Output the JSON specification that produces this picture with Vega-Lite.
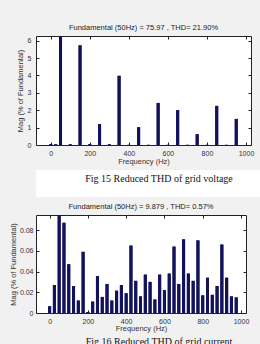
{
  "$schema": "https://vega.github.io/schema/vega-lite/v6.json",
  "background": "#f1f1f1",
  "padding": {"left": 8, "right": 0, "top": 23, "bottom": 0},
  "columns": 1,
  "align": "none",
  "spacing": 5,
  "config": {
    "font": "Liberation Sans",
    "view": {"stroke": "#222", "strokeWidth": 1, "fill": "white"},
    "axis": {
      "domain": false,
      "grid": false,
      "minExtent": 0,
      "tickSize": -3,
      "tickColor": "#222",
      "labelFont": "Liberation Sans",
      "labelFontSize": 7,
      "labelColor": "#333",
      "labelPadding": 7,
      "titleFont": "Liberation Sans",
      "titleFontSize": 7.5,
      "titleFontWeight": "normal",
      "titleColor": "#333"
    },
    "title": {"font": "Liberation Sans", "fontSize": 7.5, "fontWeight": "normal", "color": "#222", "anchor": "middle", "frame": "group", "offset": 4}
  },
  "datasets": {
    "voltage": [
      {"freq": 0, "mag": 0.05}, {"freq": 25, "mag": 0.04}, {"freq": 50, "mag": 100},
      {"freq": 100, "mag": 0.04}, {"freq": 150, "mag": 5.73}, {"freq": 200, "mag": 0.05},
      {"freq": 250, "mag": 1.2}, {"freq": 300, "mag": 0.04}, {"freq": 350, "mag": 3.98},
      {"freq": 400, "mag": 0.01}, {"freq": 450, "mag": 1.02}, {"freq": 500, "mag": 0.01},
      {"freq": 550, "mag": 2.42}, {"freq": 600, "mag": 0.01}, {"freq": 650, "mag": 2.0},
      {"freq": 700, "mag": 0.01}, {"freq": 750, "mag": 0.62}, {"freq": 800, "mag": 0.01},
      {"freq": 850, "mag": 2.25}, {"freq": 900, "mag": 0.01}, {"freq": 950, "mag": 1.5}
    ],
    "current": [
      {"freq": 0, "mag": 0.0065}, {"freq": 25, "mag": 0.027}, {"freq": 50, "mag": 100},
      {"freq": 75, "mag": 0.087}, {"freq": 100, "mag": 0.047}, {"freq": 125, "mag": 0.026},
      {"freq": 150, "mag": 0.012}, {"freq": 175, "mag": 0.059}, {"freq": 200, "mag": 0.001},
      {"freq": 225, "mag": 0.011}, {"freq": 250, "mag": 0.0355}, {"freq": 275, "mag": 0.0155},
      {"freq": 300, "mag": 0.028}, {"freq": 325, "mag": 0.012}, {"freq": 350, "mag": 0.0215},
      {"freq": 375, "mag": 0.027}, {"freq": 400, "mag": 0.019}, {"freq": 425, "mag": 0.065},
      {"freq": 450, "mag": 0.031}, {"freq": 475, "mag": 0.016}, {"freq": 500, "mag": 0.037},
      {"freq": 525, "mag": 0.030}, {"freq": 550, "mag": 0.013}, {"freq": 575, "mag": 0.037},
      {"freq": 600, "mag": 0.022}, {"freq": 625, "mag": 0.038}, {"freq": 650, "mag": 0.064},
      {"freq": 675, "mag": 0.028}, {"freq": 700, "mag": 0.071}, {"freq": 725, "mag": 0.038},
      {"freq": 750, "mag": 0.031}, {"freq": 775, "mag": 0.070}, {"freq": 800, "mag": 0.017},
      {"freq": 825, "mag": 0.034}, {"freq": 850, "mag": 0.0175}, {"freq": 875, "mag": 0.026},
      {"freq": 900, "mag": 0.066}, {"freq": 925, "mag": 0.034}, {"freq": 950, "mag": 0.016},
      {"freq": 975, "mag": 0.015}
    ]
  },
  "concat": [
    {
      "width": 215,
      "height": 109,
      "title": "Fundamental (50Hz) = 75.97 , THD= 21.90%",
      "data": {"name": "voltage"},
      "layer": [
        {
          "mark": {"type": "bar", "size": 3, "color": "#12125c", "clip": true},
          "encoding": {
            "x": {"field": "freq", "type": "quantitative", "scale": {"domain": [-50, 1000], "nice": false, "zero": false},
                  "axis": {"values": [0, 200, 400, 600, 800, 1000], "format": "d", "title": "Frequency (Hz)", "titlePadding": 1}},
            "y": {"field": "mag", "type": "quantitative", "scale": {"domain": [0, 6.27], "nice": false},
                  "axis": {"values": [0, 1, 2, 3, 4, 5, 6], "labelPadding": 8, "title": "Mag (% of Fundamental)", "titlePadding": 3}}
          }
        },
        {
          "mark": {"type": "bar", "size": 3, "color": "#12125c", "clip": true},
          "encoding": {
            "x": {"field": "freq", "type": "quantitative", "axis": {"orient": "top", "values": [0, 200, 400, 600, 800, 1000], "labels": false, "title": null}},
            "y": {"field": "mag", "type": "quantitative", "axis": {"orient": "right", "values": [0, 1, 2, 3, 4, 5, 6], "labels": false, "title": null}}
          }
        }
      ],
      "resolve": {"axis": {"x": "independent", "y": "independent"}}
    },
    {
      "width": 252,
      "height": 27,
      "view": {"fill": "white", "stroke": null},
      "data": {"values": [{"caption": "Fig  15 Reduced THD of grid voltage"}]},
      "mark": {"type": "text", "font": "Liberation Serif", "fontSize": 10, "color": "#111", "dx": -3, "dy": -5},
      "encoding": {"text": {"field": "caption"}}
    },
    {
      "width": 210,
      "height": 98,
      "title": "Fundamental (50Hz) = 9.879 , THD= 0.57%",
      "data": {"name": "current"},
      "layer": [
        {
          "mark": {"type": "bar", "size": 3, "color": "#12125c", "clip": true},
          "encoding": {
            "x": {"field": "freq", "type": "quantitative", "scale": {"domain": [-45, 1000], "nice": false, "zero": false},
                  "axis": {"values": [0, 200, 400, 600, 800, 1000], "format": "d", "title": "Frequency (Hz)", "titlePadding": 0}},
            "y": {"field": "mag", "type": "quantitative", "scale": {"domain": [0, 0.0945], "nice": false},
                  "axis": {"values": [0, 0.02, 0.04, 0.06, 0.08], "format": "~g", "labelPadding": 6, "title": "Mag (% of Fundamental)", "titlePadding": 2}}
          }
        },
        {
          "mark": {"type": "bar", "size": 3, "color": "#12125c", "clip": true},
          "encoding": {
            "x": {"field": "freq", "type": "quantitative", "axis": {"orient": "top", "values": [0, 200, 400, 600, 800, 1000], "labels": false, "title": null}},
            "y": {"field": "mag", "type": "quantitative", "axis": {"orient": "right", "values": [0, 0.02, 0.04, 0.06, 0.08], "labels": false, "title": null}}
          }
        }
      ],
      "resolve": {"axis": {"x": "independent", "y": "independent"}}
    },
    {
      "width": 252,
      "height": 4,
      "view": {"fill": "white", "stroke": null},
      "data": {"values": [{"caption": "Fig 16 Reduced THD of grid current"}]},
      "mark": {"type": "text", "font": "Liberation Serif", "fontSize": 10, "color": "#111", "dx": -3, "dy": -11},
      "encoding": {"text": {"field": "caption"}}
    }
  ]
}
